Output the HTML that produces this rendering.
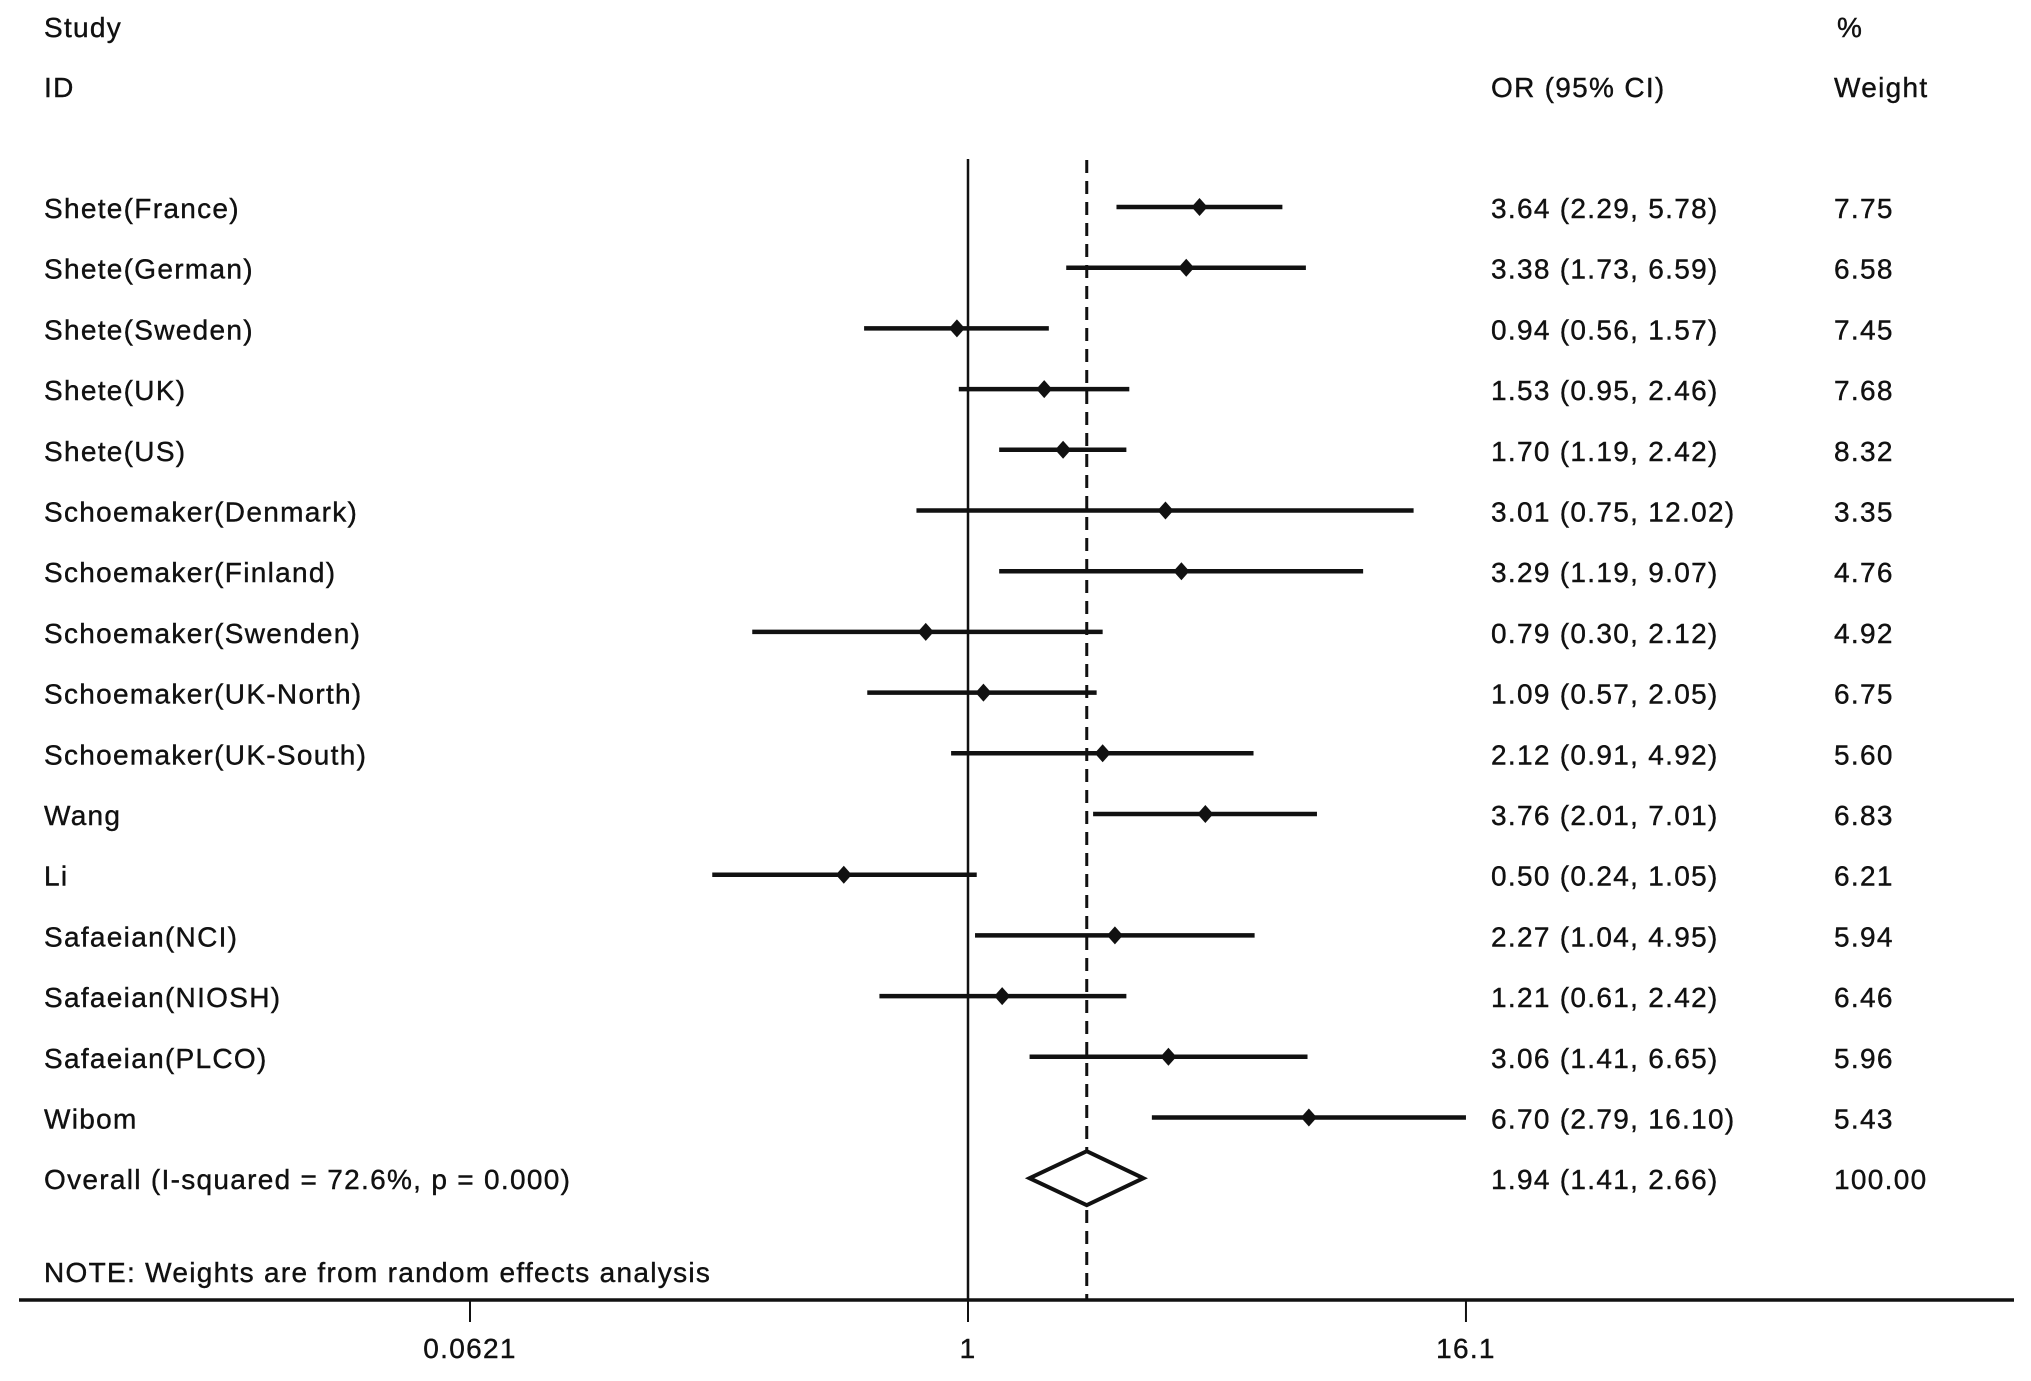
<!DOCTYPE html>
<html><head><meta charset="utf-8"><style>
html,body{margin:0;padding:0;background:#fff;}
svg{display:block;font-family:"Liberation Sans",Arial,sans-serif;}
text{font-size:28px;fill:#111;letter-spacing:1.3px;stroke:#111;stroke-width:0.4px;}
</style></head><body>
<svg id="chart" width="2031" height="1381" viewBox="0 0 2031 1381" xmlns="http://www.w3.org/2000/svg">
<text x="44" y="37">Study</text>
<text x="44" y="97">ID</text>
<text x="1491" y="97">OR (95% CI)</text>
<text x="1837" y="37">%</text>
<text x="1834" y="97">Weight</text>
<text x="44" y="1282">NOTE: Weights are from random effects analysis</text>
<g id="plot"></g>
</svg>
<script>
const studies=["Shete(France)","Shete(German)","Shete(Sweden)","Shete(UK)","Shete(US)","Schoemaker(Denmark)","Schoemaker(Finland)","Schoemaker(Swenden)","Schoemaker(UK-North)","Schoemaker(UK-South)","Wang","Li","Safaeian(NCI)","Safaeian(NIOSH)","Safaeian(PLCO)","Wibom"];
const orValues=[3.64,3.38,0.94,1.53,1.70,3.01,3.29,0.79,1.09,2.12,3.76,0.50,2.27,1.21,3.06,6.70];
const lowerCI=[2.29,1.73,0.56,0.95,1.19,0.75,1.19,0.30,0.57,0.91,2.01,0.24,1.04,0.61,1.41,2.79];
const upperCI=[5.78,6.59,1.57,2.46,2.42,12.02,9.07,2.12,2.05,4.92,7.01,1.05,4.95,2.42,6.65,16.10];
const weights=["7.75","6.58","7.45","7.68","8.32","3.35","4.76","4.92","6.75","5.60","6.83","6.21","5.94","6.46","5.96","5.43"];
const overall=[1.94,1.41,2.66];
const overallWeight="100.00";
const tickValues=[0.0621,1,16.1];
const tickLabels=["0.0621","1","16.1"];

const NS="http://www.w3.org/2000/svg";
const g=document.getElementById('plot');
const xS=v=>968+179.2*Math.log(v);
const yS=i=>207+i*60.7;
function mk(t,a){const e=document.createElementNS(NS,t);for(const k in a)e.setAttribute(k,a[k]);g.appendChild(e);return e;}
const f2=v=>v.toFixed(2);

let e;
e=mk('line',{x1:xS(1),x2:xS(1),y1:159,y2:1300,stroke:'#111','stroke-width':2.5});


e=mk('line',{x1:xS(overall[0]),x2:xS(overall[0]),y1:160,y2:1300,stroke:'#111','stroke-width':3,'stroke-dasharray':'13 8'});



studies.forEach((s,i)=>{
  const y=yS(i);
  let t=mk('text',{x:44,y:y+11});t.textContent=s;
  
  
  let l=mk('line',{x1:xS(lowerCI[i]),x2:xS(upperCI[i]),y1:y,y2:y,stroke:'#111','stroke-width':4.5});
  
  
  const cx=xS(orValues[i]);
  let p=mk('polygon',{points:`${cx-8},${y} ${cx},${y-9} ${cx+8},${y} ${cx},${y+9}`,fill:'#111'});
  
  
  let o=mk('text',{x:1491,y:y+11});o.textContent=`${f2(orValues[i])} (${f2(lowerCI[i])}, ${f2(upperCI[i])})`;
  
  
  let w=mk('text',{x:1834,y:y+11});w.textContent=weights[i];
  
  
});
const oy=yS(studies.length);
let ot=mk('text',{x:44,y:oy+11});ot.textContent="Overall  (I-squared = 72.6%, p = 0.000)";


let d=mk('polygon',{points:`${xS(overall[1])},${oy} ${xS(overall[0])},${oy-27} ${xS(overall[2])},${oy} ${xS(overall[0])},${oy+27}`,fill:'#fff',stroke:'#111','stroke-width':4});


let ov=mk('text',{x:1491,y:oy+11});ov.textContent=`${f2(overall[0])} (${f2(overall[1])}, ${f2(overall[2])})`;


let owt=mk('text',{x:1834,y:oy+11});owt.textContent=overallWeight;



let ax=mk('line',{x1:19,x2:2014,y1:1300,y2:1300,stroke:'#111','stroke-width':3.5});


tickValues.forEach((v,i)=>{
  let tk=mk('line',{x1:xS(v),x2:xS(v),y1:1300,y2:1322,stroke:'#111','stroke-width':2});
  
  
  let tl=mk('text',{x:xS(v),y:1358,'text-anchor':'middle'});tl.textContent=tickLabels[i];
  
  
});
</script>
</body></html>
